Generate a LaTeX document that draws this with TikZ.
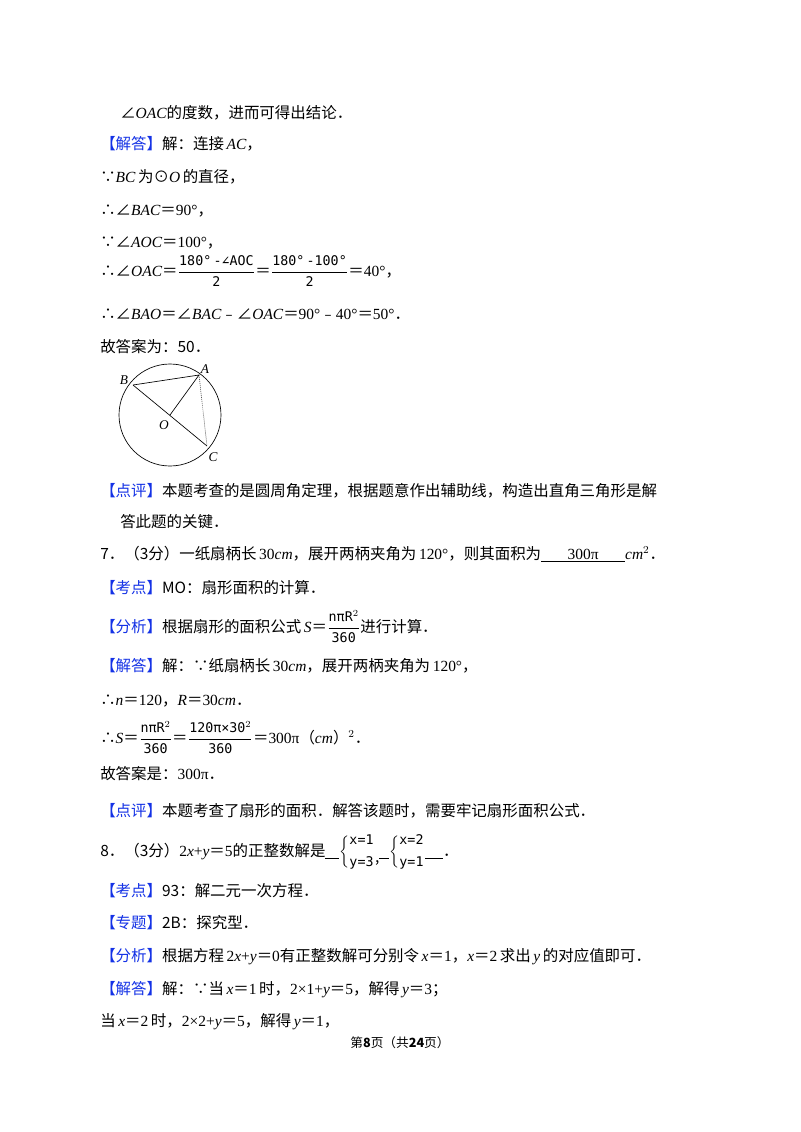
\documentclass[tikz,border=0pt]{standalone}
\usepackage{fontspec}
\setmainfont{Noto Sans CJK SC}
\newfontfamily\lser{Liberation Serif}
\newfontfamily\lmono{DejaVu Sans Mono}
\newcommand\vi[1]{{\lser\itshape #1}}
\newcommand\vr[1]{{\lser #1}}
\newcommand\an[1]{∠\vi{#1}}
\newcommand\fr[2]{$\displaystyle\frac{\hbox{\lmono\fontsize{10}{12}\selectfont #1}}{\hbox{\lmono\fontsize{10}{12}\selectfont #2}}$}
\definecolor{kb}{RGB}{20,50,230}
\newcommand\bk[1]{{\color{kb}【#1】}}
\begin{document}
\begin{tikzpicture}[x=0.75pt,y=-0.75pt,
  txt/.style={anchor=base west,inner sep=0pt,font=\fontsize{11.6}{14}\selectfont},
  seg/.style={line width=0.5pt},
  lbl/.style={inner sep=0pt,font=\fontsize{10}{12}\selectfont\lser\itshape}]
\useasboundingbox[fill=white] (0,0) rectangle (800,1132);
\node[txt] (l1) at (120,118) {\an{OAC}的度数，进而可得出结论．};
\node[txt] (l2) at (100,149) {\bk{解答}解：连接\,\vi{AC}，};
\node[txt] (l3) at (100,182) {∵\vi{BC}\,为⊙\vi{O}\,的直径，};
\node[txt] (l4) at (100,215) {∴\an{BAC}＝\vr{90°}，};
\node[txt] (l5) at (100,247) {∵\an{AOC}＝\vr{100°}，};
\node[txt] (l6) at (100,276) {∴\an{OAC}＝\fr{180°\,-∠AOC}{2}＝\fr{180°\,-100°}{2}＝\vr{40°}，};
\node[txt] (l7) at (100,319) {∴\an{BAO}＝\an{BAC}﹣\an{OAC}＝\vr{90°}﹣\vr{40°}＝\vr{50°}．};
\node[txt] (l8) at (100,352) {故答案为：50．};
% figure
\coordinate (O) at (170,415);
\coordinate (A) at (199,375);
\coordinate (B) at (133,385);
\coordinate (C) at (207,446);
\draw[seg] (O) circle[radius=51];
\draw[seg] (B) -- (A) -- (O);
\draw[seg] (B) -- (C);
\draw[seg,densely dotted] (A) -- (C);
\node[lbl] (la) at (205,369) {A};
\node[lbl] (lb) at (124,380) {B};
\node[lbl] (lo) at (164,425) {O};
\node[lbl] (lc) at (213,457) {C};
\node[txt] (l9) at (100,496) {\bk{点评}本题考查的是圆周角定理，根据题意作出辅助线，构造出直角三角形是解};
\node[txt] (l10) at (120,527) {答此题的关键．};
\node[txt] (l11) at (100,559) {7．（3分）一纸扇柄长\,\vr{30}\vi{cm}，展开两柄夹角为\,\vr{120°}，则其面积为\underline{\hbox to 63pt{\hss\vr{300π}\hss}}\vi{cm}$^{\vr{2}}$．};
\node[txt] (l12) at (100,593) {\bk{考点}MO：扇形面积的计算．};
\node[txt] (l13) at (100,632) {\bk{分析}根据扇形的面积公式\,\vi{S}＝\fr{nπR$^2$}{360}进行计算．};
\node[txt] (l14) at (100,671) {\bk{解答}解：∵纸扇柄长\,\vr{30}\vi{cm}，展开两柄夹角为\,\vr{120°}，};
\node[txt] (l15) at (100,705) {∴\vi{n}＝\vr{120}，\vi{R}＝\vr{30}\vi{cm}．};
\node[txt] (l16) at (100,743) {∴\vi{S}＝\fr{nπR$^2$}{360}＝\fr{120π×30$^2$}{360}＝\vr{300π}（\vi{cm}）$^{\vr{2}}$．};
\node[txt] (l17) at (100,779) {故答案是：\vr{300π}．};
\node[txt] (l18) at (100,816) {\bk{点评}本题考查了扇形的面积．解答该题时，需要牢记扇形面积公式．};
\node[txt] (l19) at (100,856) {8．（3分）\vr{2}\vi{x}\vr{+}\vi{y}＝\vr{5}的正整数解是\underline{\hbox to 10.5pt{}}$\left\{\vcenter{\hbox{\lmono\fontsize{10}{12}\selectfont x=1}\vskip3pt\hbox{\lmono\fontsize{10}{12}\selectfont y=3}}\right.$\raisebox{-5pt}{,}\underline{\hbox to 7.5pt{}}$\left\{\vcenter{\hbox{\lmono\fontsize{10}{12}\selectfont x=2}\vskip3pt\hbox{\lmono\fontsize{10}{12}\selectfont y=1}}\right.$\underline{\hbox to 13.5pt{}}．};
\node[txt] (l20) at (100,896) {\bk{考点}93：解二元一次方程．};
\node[txt] (l21) at (100,928) {\bk{专题}2B：探究型．};
\node[txt] (l22) at (100,961) {\bk{分析}根据方程\,\vr{2}\vi{x}\vr{+}\vi{y}＝\vr{0}有正整数解可分别令\,\vi{x}＝\vr{1}，\vi{x}＝\vr{2}\,求出\,\vi{y}\,的对应值即可．};
\node[txt] (l23) at (100,994) {\bk{解答}解：∵当\,\vi{x}＝\vr{1}\,时，\vr{2×1+}\vi{y}＝\vr{5}，解得\,\vi{y}＝\vr{3}；};
\node[txt] (l24) at (100,1026) {当\,\vi{x}＝\vr{2}\,时，\vr{2×2+}\vi{y}＝\vr{5}，解得\,\vi{y}＝\vr{1}，};
\node[anchor=base,inner sep=0pt,font=\fontsize{9.5}{11}\selectfont] (ft) at (400,1047) {第\textbf{8}页（共\textbf{24}页）};
\end{tikzpicture}
\end{document}
